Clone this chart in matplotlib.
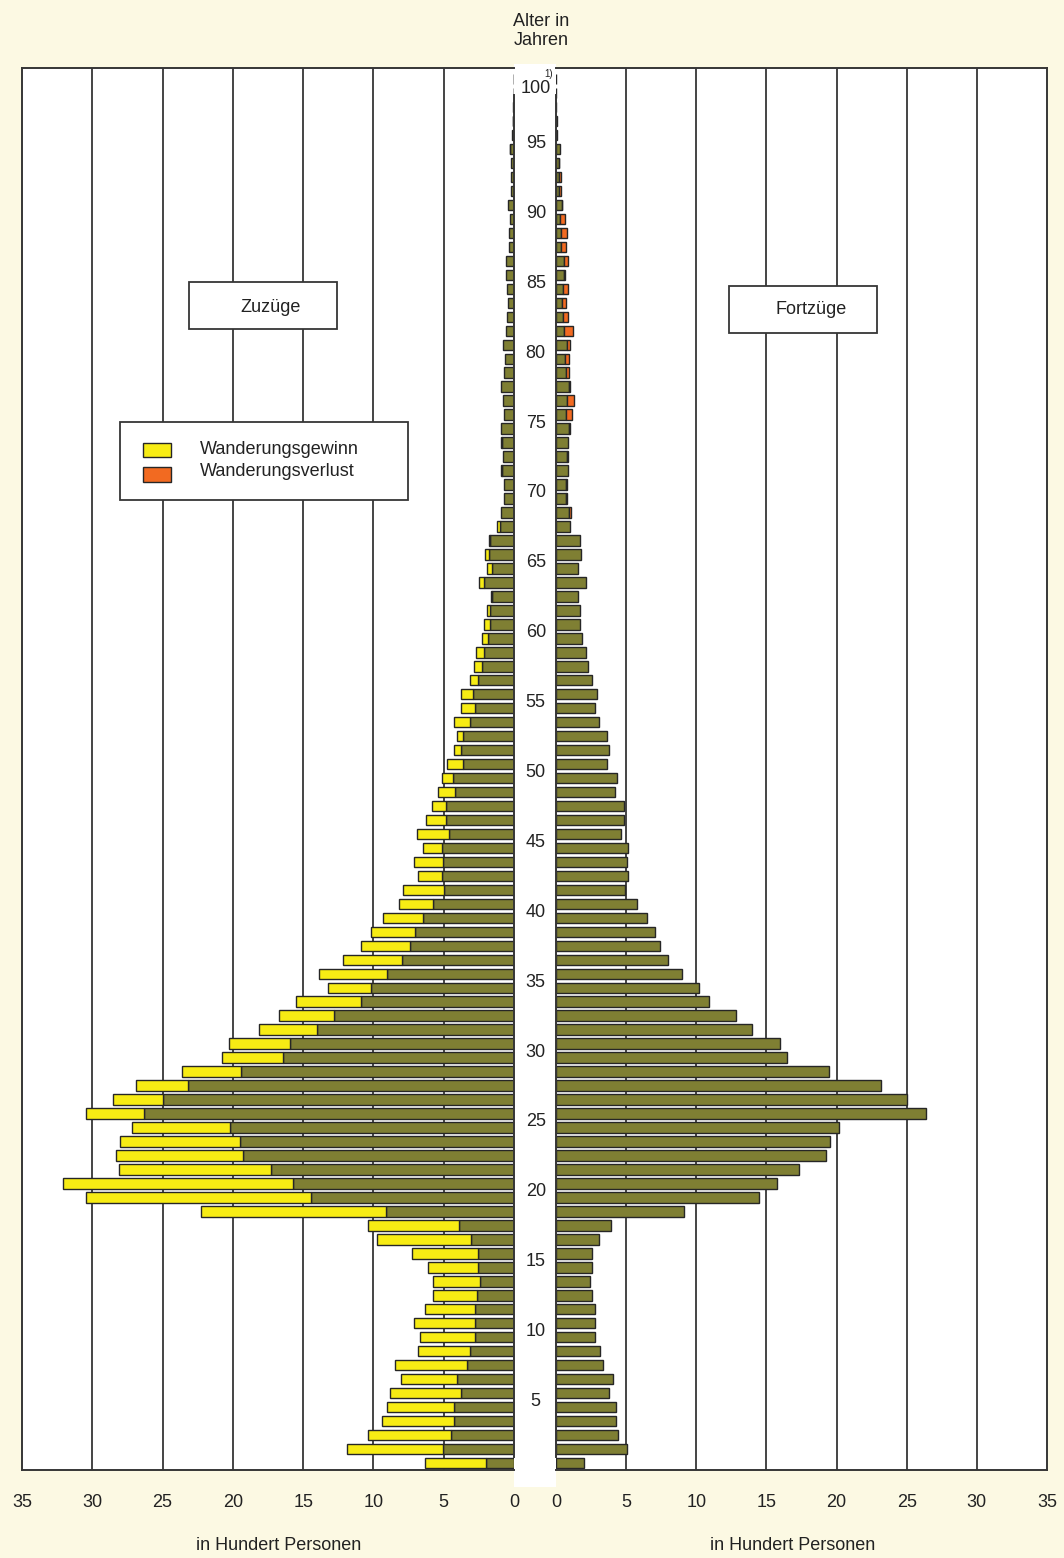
import numpy as np
import matplotlib.pyplot as plt
from matplotlib.patches import Rectangle

plt.rcParams['font.family'] = ['Liberation Sans', 'DejaVu Sans']

# Alter (Balken von unten nach oben), Werte in Hundert Personen
alter = np.arange(1, 101)
zuzuege = [
    6.3, 11.9, 10.4, 9.4, 9.0, 8.85, 8.05, 8.45, 6.8, 6.7,
    7.1, 6.3, 5.75, 5.75, 6.15, 7.25, 9.75, 10.4, 22.25, 30.45,
    32.1, 28.1, 28.3, 28.0, 27.2, 30.45, 28.55, 26.9, 23.6, 20.75,
    20.3, 18.15, 16.75, 15.5, 13.2, 13.85, 12.15, 10.9, 10.2, 9.35,
    8.2, 7.87, 6.8, 7.1, 6.5, 6.9, 6.25, 5.8, 5.43, 5.15,
    4.75, 4.3, 4.08, 4.3, 3.77, 3.77, 3.13, 2.82, 2.7, 2.3,
    2.13, 1.9, 1.62, 2.5, 1.95, 2.06, 1.78, 1.2, 0.95, 0.69,
    0.69, 0.95, 0.8, 0.95, 0.95, 0.72, 0.78, 0.95, 0.69, 0.64,
    0.8, 0.6, 0.5, 0.4, 0.52, 0.57, 0.6, 0.35, 0.35, 0.3,
    0.4, 0.22, 0.22, 0.22, 0.28, 0.12, 0.1, 0.04, 0.02, 0.01,
]
fortzuege = [
    2.0, 5.05, 4.45, 4.25, 4.3, 3.8, 4.05, 3.35, 3.15, 2.8,
    2.8, 2.8, 2.6, 2.4, 2.55, 2.55, 3.05, 3.9, 9.1, 14.45,
    15.75, 17.3, 19.25, 19.5, 20.2, 26.35, 25.0, 23.2, 19.45, 16.45,
    15.95, 14.0, 12.8, 10.9, 10.2, 9.0, 8.0, 7.4, 7.05, 6.5,
    5.77, 4.95, 5.13, 5.08, 5.15, 4.6, 4.83, 4.83, 4.22, 4.33,
    3.64, 3.8, 3.64, 3.1, 2.78, 2.9, 2.58, 2.3, 2.12, 1.86,
    1.68, 1.73, 1.55, 2.15, 1.6, 1.75, 1.72, 1.02, 1.05, 0.77,
    0.78, 0.88, 0.88, 0.88, 1.0, 1.15, 1.28, 1.02, 0.95, 0.95,
    1.0, 1.2, 0.88, 0.72, 0.88, 0.66, 0.88, 0.72, 0.76, 0.62,
    0.45, 0.35, 0.35, 0.24, 0.26, 0.08, 0.04, 0.02, 0.01, 0.0,
]
x_ticks = [0, 5, 10, 15, 20, 25, 30, 35]
alter_labels = list(range(5, 101, 5))

# colours
bg = '#FCF9E3'
olive = '#7F7F33'
gelb = '#F7EC14'
orange = '#F26A21'
kante = '#262626'
linie = '#363636'

W, H = 1064, 1558
fig = plt.figure(figsize=(W / 100, H / 100), dpi=100)
fig.patch.set_facecolor(bg)


def fx(px):
    return px / W


def fy(py):
    return 1 - py / H


ax_l = fig.add_axes([fx(22), fy(1470), (514 - 22) / W, (1470 - 68) / H])
ax_r = fig.add_axes([fx(556), fy(1470), (1047 - 556) / W, (1470 - 68) / H])

# white strip in the middle for the age labels
fig.add_artist(Rectangle((fx(514), fy(1487)), 42 / W, (1487 - 64) / H,
                         transform=fig.transFigure, facecolor='white',
                         edgecolor='none', zorder=-1))

zu = np.array(zuzuege)
fo = np.array(fortzuege)
basis = np.minimum(zu, fo)
gewinn = zu - fo
verlust = fo - zu
mg = gewinn > 0
mv = verlust > 0

for ax in (ax_l, ax_r):
    ax.set_ylim(0.5, 100.8)
    ax.set_yticks([])
    ax.set_xticks(x_ticks)
    ax.tick_params(axis='x', length=0, pad=17, labelsize=13, labelcolor='#222222')
    for v in x_ticks[1:-1]:
        ax.axvline(v, color=linie, lw=1.3, zorder=0.5)
    for s in ax.spines.values():
        s.set_color(linie)
        s.set_linewidth(1.4)

ax_l.set_xlim(35, 0)
ax_r.set_xlim(0, 35)
ax_l.spines['right'].set_visible(False)
ax_r.spines['left'].set_visible(False)
ax_l.plot([0, 0], [1.45, 98.9], color=linie, lw=1.4, zorder=3, clip_on=False)
ax_r.plot([0, 0], [1.45, 98.9], color=linie, lw=1.4, zorder=3, clip_on=False)

h = 0.75
ax_l.barh(alter, basis, height=h, color=olive, edgecolor=kante, lw=1.0, zorder=2)
ax_l.barh(alter[mg], gewinn[mg], left=basis[mg], height=h, color=gelb,
          edgecolor=kante, lw=1.0, zorder=2)
ax_r.barh(alter, basis, height=h, color=olive, edgecolor=kante, lw=1.0, zorder=2)
ax_r.barh(alter[mv], verlust[mv], left=basis[mv], height=h, color=orange,
          edgecolor=kante, lw=1.0, zorder=2)

# age labels in the centre strip
for k in alter_labels:
    ax_l.text(-1.55, min(k + 0.4, 99.3), str(k), ha='center', va='center',
              fontsize=13, color='#222222', clip_on=False)
fig.text(fx(549), fy(74), '1)', ha='center', va='center', fontsize=7, color='#222222')

fig.text(fx(541), fy(31), 'Alter in\nJahren', ha='center', va='center',
         fontsize=13, color='#222222')
fig.text(fx(279), fy(1545), 'in Hundert Personen', ha='center', va='center',
         fontsize=13, color='#222222')
fig.text(fx(793), fy(1545), 'in Hundert Personen', ha='center', va='center',
         fontsize=13, color='#222222')


def box(x0, y0, x1, y1):
    fig.add_artist(Rectangle((fx(x0), fy(y1)), (x1 - x0) / W, (y1 - y0) / H,
                             transform=fig.transFigure, facecolor='white',
                             edgecolor=linie, lw=1.3, zorder=5))


box(189, 282, 337, 329)
fig.text(fx(271), fy(307), 'Zuzüge', ha='center', va='center', fontsize=13,
         color='#222222', zorder=6)
box(729, 286, 877, 333)
fig.text(fx(811), fy(310), 'Fortzüge', ha='center', va='center', fontsize=13,
         color='#222222', zorder=6)

# legend
box(120, 422, 408, 500)
for (y0, y1), c in (((443, 457), gelb), ((467, 482), orange)):
    fig.add_artist(Rectangle((fx(143), fy(y1)), 28 / W, (y1 - y0) / H,
                             transform=fig.transFigure, facecolor=c,
                             edgecolor=kante, lw=1.0, zorder=6))
fig.text(fx(200), fy(449), 'Wanderungsgewinn', ha='left', va='center',
         fontsize=13, color='#222222', zorder=6)
fig.text(fx(200), fy(471), 'Wanderungsverlust', ha='left', va='center',
         fontsize=13, color='#222222', zorder=6)

fig.savefig('out.png', dpi=100, facecolor=fig.get_facecolor())
